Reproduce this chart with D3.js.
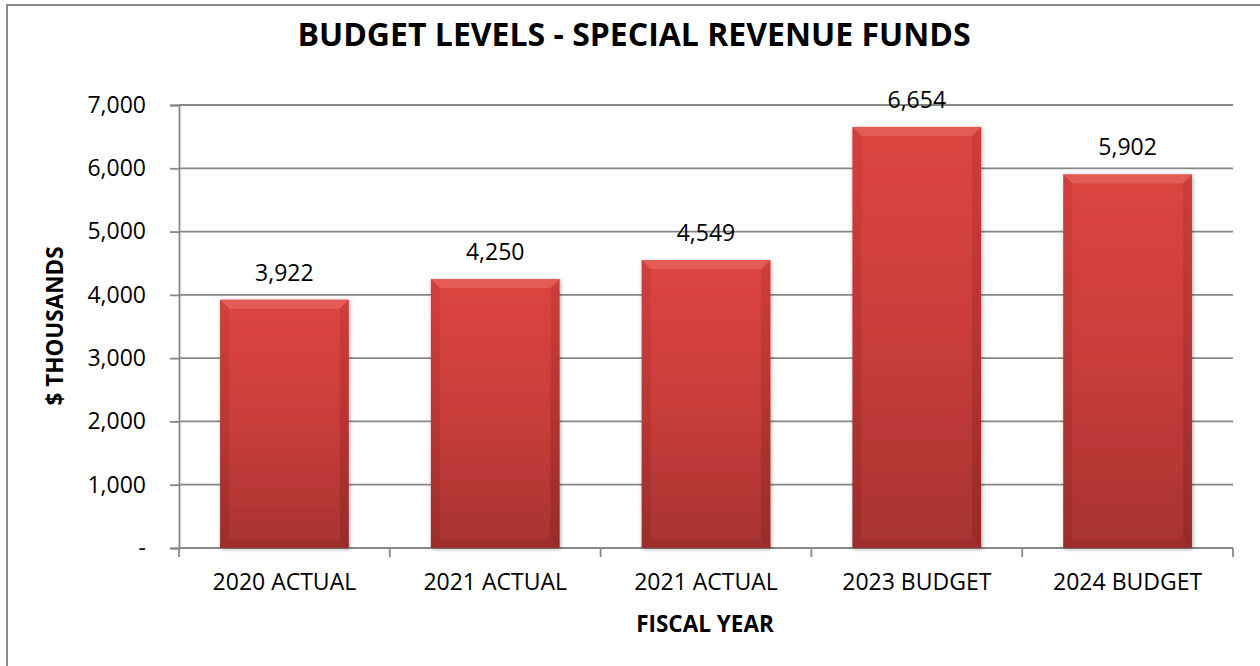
<!DOCTYPE html>
<html>
<head>
<meta charset="utf-8">
<script src="https://cdn.jsdelivr.net/npm/d3@7"></script>
<style>
  html, body { margin: 0; padding: 0; background: #fff; }
  svg { display: block; font-family: "Open Sans", Lato, sans-serif; }
</style>
</head>
<body>
<svg id="chart" width="1260" height="666"></svg>
<script>
// Budget levels for special revenue funds, $ thousands
const categories = ["2020 ACTUAL", "2021 ACTUAL", "2021 ACTUAL", "2023 BUDGET", "2024 BUDGET"];
const values = [3922, 4250, 4549, 6654, 5902];
const yTicks = [0, 1000, 2000, 3000, 4000, 5000, 6000, 7000];

const svg = d3.select("#chart");
const W = 1260, H = 666;
const plot = { left: 179, right: 1233, top: 105, bottom: 548 };
const FONT = "'Open Sans', Lato, sans-serif";

// chart frame
svg.append("rect")
  .attr("x", 7).attr("y", 5)
  .attr("width", W + 10).attr("height", H + 10)
  .attr("fill", "#fff").attr("stroke", "#8a8a8a").attr("stroke-width", 2);

const x = d3.scaleBand()
  .domain(d3.range(categories.length))
  .range([plot.left, plot.right])
  .paddingInner(0.39)
  .paddingOuter(0.195);

const y = d3.scaleLinear().domain([0, 7000]).range([plot.bottom, plot.top]);

const fmt = d3.format(",");
const gridColor = "#888888";

// horizontal gridlines
svg.append("g")
  .selectAll("line")
  .data(yTicks.filter(d => d > 0))
  .join("line")
  .attr("x1", plot.left).attr("x2", plot.right)
  .attr("y1", d => y(d)).attr("y2", d => y(d))
  .attr("stroke", gridColor).attr("stroke-width", 1.8);

// y axis
const yAxis = d3.axisLeft(y)
  .tickValues(yTicks)
  .tickSize(9)
  .tickPadding(24)
  .tickFormat(d => d === 0 ? "-" : fmt(d));
const gy = svg.append("g").attr("transform", `translate(${plot.left},0)`).call(yAxis);
gy.attr("font-family", FONT);
gy.select(".domain").attr("stroke", gridColor).attr("stroke-width", 1.8);
gy.selectAll(".tick line").attr("stroke", gridColor).attr("stroke-width", 1.8);
gy.selectAll(".tick text")
  .attr("fill", "#000").attr("font-size", 23);

// x axis with ticks at category boundaries
const xEdges = d3.range(categories.length + 1).map(i => plot.left + i * x.step());
svg.append("line")
  .attr("x1", plot.left).attr("x2", plot.right)
  .attr("y1", plot.bottom).attr("y2", plot.bottom)
  .attr("stroke", gridColor).attr("stroke-width", 1.8);
svg.append("g")
  .selectAll("line")
  .data(xEdges)
  .join("line")
  .attr("x1", d => d).attr("x2", d => d)
  .attr("y1", plot.bottom).attr("y2", plot.bottom + 9)
  .attr("stroke", gridColor).attr("stroke-width", 1.8);

svg.append("g")
  .selectAll("text")
  .data(categories)
  .join("text")
  .attr("x", (d, i) => x(i) + x.bandwidth() / 2)
  .attr("y", 590)
  .attr("text-anchor", "middle")
  .attr("font-size", 23)
  .attr("fill", "#000")
  .text(d => d);

// bar gradients
const defs = svg.append("defs");
const body = defs.append("linearGradient").attr("id", "barBody").attr("x1", 0).attr("y1", 0).attr("x2", 0).attr("y2", 1);
body.append("stop").attr("offset", "0%").attr("stop-color", "#dc4541");
body.append("stop").attr("offset", "50%").attr("stop-color", "#c93d3b");
body.append("stop").attr("offset", "100%").attr("stop-color", "#a83331");
const side = defs.append("linearGradient").attr("id", "barSide").attr("x1", 0).attr("y1", 0).attr("x2", 0).attr("y2", 1);
side.append("stop").attr("offset", "0%").attr("stop-color", "#c83a37");
side.append("stop").attr("offset", "100%").attr("stop-color", "#8e2725");
const shadow = defs.append("filter").attr("id", "barShadow").attr("x", "-10%").attr("y", "-10%").attr("width", "120%").attr("height", "120%");
shadow.append("feGaussianBlur").attr("in", "SourceAlpha").attr("stdDeviation", 2).attr("result", "b");
shadow.append("feOffset").attr("in", "b").attr("dx", 1).attr("dy", 1).attr("result", "o");
shadow.append("feComponentTransfer").attr("in", "o").attr("result", "s")
  .append("feFuncA").attr("type", "linear").attr("slope", 0.35);
const merge = shadow.append("feMerge");
merge.append("feMergeNode").attr("in", "s");
merge.append("feMergeNode").attr("in", "SourceGraphic");

const bevel = 9;
const bars = svg.append("g")
  .selectAll("g")
  .data(values)
  .join("g");

bars.append("rect")
  .attr("x", (d, i) => x(i))
  .attr("y", d => y(d))
  .attr("width", x.bandwidth())
  .attr("height", d => y(0) - y(d))
  .attr("fill", "url(#barBody)")
  .attr("filter", "url(#barShadow)");

// top bevel (light)
bars.append("polygon")
  .attr("points", (d, i) => {
    const x0 = x(i), x1 = x(i) + x.bandwidth(), t = y(d);
    return [[x0, t], [x1, t], [x1 - bevel, t + bevel], [x0 + bevel, t + bevel]].join(" ");
  })
  .attr("fill", "#e55c57");
// left and right bevels (dark)
bars.append("polygon")
  .attr("points", (d, i) => {
    const x0 = x(i), t = y(d), b = y(0);
    return [[x0, t], [x0 + bevel, t + bevel], [x0 + bevel, b - bevel], [x0, b]].join(" ");
  })
  .attr("fill", "url(#barSide)").attr("opacity", 0.5);
bars.append("polygon")
  .attr("points", (d, i) => {
    const x1 = x(i) + x.bandwidth(), t = y(d), b = y(0);
    return [[x1, t], [x1 - bevel, t + bevel], [x1 - bevel, b - bevel], [x1, b]].join(" ");
  })
  .attr("fill", "url(#barSide)").attr("opacity", 0.7);
// bottom bevel
bars.append("polygon")
  .attr("points", (d, i) => {
    const x0 = x(i), x1 = x(i) + x.bandwidth(), b = y(0);
    return [[x0, b], [x1, b], [x1 - bevel, b - bevel], [x0 + bevel, b - bevel]].join(" ");
  })
  .attr("fill", "#952b29").attr("opacity", 0.55);

// value labels
svg.append("g")
  .selectAll("text")
  .data(values)
  .join("text")
  .attr("x", (d, i) => x(i) + x.bandwidth() / 2)
  .attr("y", d => y(d) - 19)
  .attr("text-anchor", "middle")
  .attr("font-size", 23)
  .attr("fill", "#000")
  .text(d => fmt(d));

// title
svg.append("text")
  .attr("x", 634).attr("y", 46)
  .attr("text-anchor", "middle")
  .attr("font-size", 32)
  .attr("font-weight", "bold")
  .attr("fill", "#000")
  .text("BUDGET LEVELS - SPECIAL REVENUE FUNDS");

// axis titles
svg.append("text")
  .attr("x", 705).attr("y", 632)
  .attr("text-anchor", "middle")
  .attr("font-size", 22.5)
  .attr("font-weight", "bold")
  .attr("fill", "#000")
  .text("FISCAL YEAR");

svg.append("text")
  .attr("transform", "translate(63,326) rotate(-90)")
  .attr("text-anchor", "middle")
  .attr("font-size", 22.5)
  .attr("font-weight", "bold")
  .attr("fill", "#000")
  .text("$ THOUSANDS");
</script>
</body>
</html>
